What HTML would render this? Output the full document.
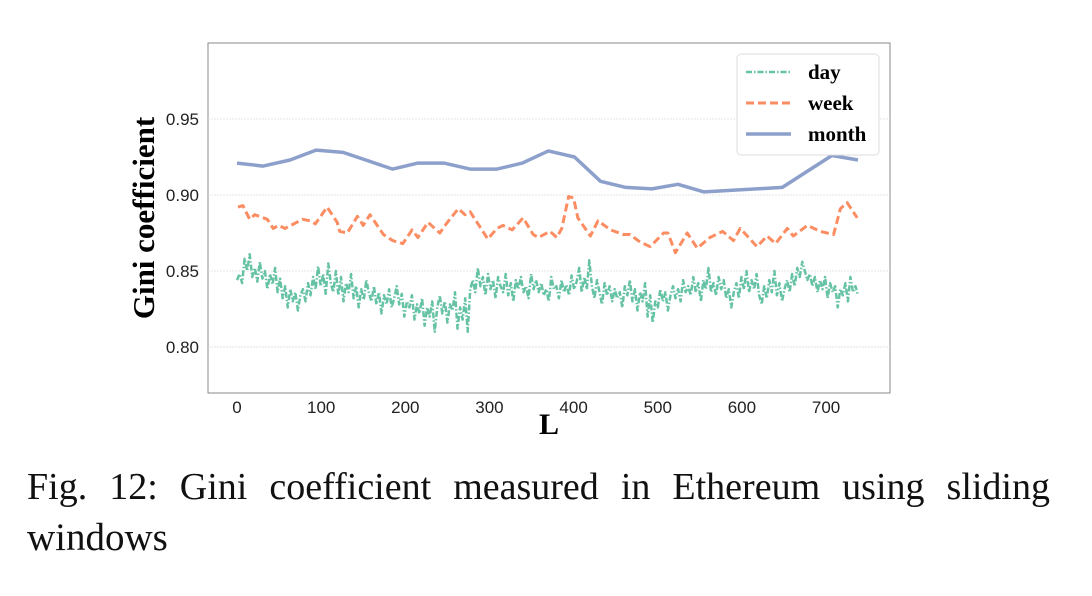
<!DOCTYPE html>
<html><head><meta charset="utf-8"><style>
body{margin:0;background:#fff;width:1092px;height:596px;overflow:hidden;position:relative;font-family:"Liberation Serif",serif}
#cap{position:absolute;left:27px;top:462px;width:1023px;font-size:38px;line-height:50px;text-align:justify;text-align-last:justify;color:#111;white-space:nowrap}
#cap2{position:absolute;left:27px;top:513px;font-size:39px;line-height:50px;color:#111}
</style></head><body>
<svg id="chart" width="1092" height="460" style="position:absolute;left:0;top:0"></svg>
<div id="cap">Fig. 12: Gini coefficient measured in Ethereum using sliding</div>
<div id="cap2">windows</div>
<script>
const monthX=[0,31,63,94,126,185,215,246,277,309,339,370,401,432,462,493,524,555,648,707,738];
const monthY=[0.921,0.919,0.923,0.9295,0.928,0.917,0.921,0.921,0.917,0.917,0.921,0.929,0.925,0.909,0.905,0.904,0.907,0.902,0.905,0.926,0.923];
const weekX=[1,7,15,21,36,43,49,57,78,87,93,107,119,122,131,143,150,158,174,185,197,208,215,227,241,250,263,271,277,298,309,316,327,340,352,358,372,380,386,394,400,405,420,429,444,459,467,479,491,507,512,521,535,547,562,577,590,598,618,630,640,654,661,678,693,709,717,725,737];
const weekY=[0.892,0.893,0.884,0.887,0.884,0.878,0.880,0.878,0.884,0.883,0.881,0.892,0.882,0.876,0.875,0.886,0.880,0.887,0.874,0.870,0.868,0.877,0.872,0.882,0.875,0.882,0.891,0.887,0.889,0.871,0.878,0.880,0.877,0.885,0.874,0.872,0.876,0.872,0.878,0.899,0.898,0.885,0.873,0.883,0.877,0.874,0.874,0.869,0.866,0.875,0.875,0.862,0.875,0.865,0.872,0.876,0.870,0.878,0.866,0.873,0.868,0.878,0.873,0.880,0.876,0.874,0.891,0.895,0.885];
const dayFirst=0, dayLast=738;
const dayY=[0.844,0.848,0.842,0.858,0.850,0.861,0.846,0.852,0.843,0.856,0.845,0.850,0.838,0.848,0.841,0.852,0.836,0.845,0.832,0.840,0.826,0.838,0.830,0.836,0.824,0.834,0.838,0.830,0.842,0.834,0.846,0.838,0.853,0.840,0.848,0.835,0.855,0.842,0.836,0.850,0.834,0.846,0.830,0.842,0.836,0.848,0.832,0.840,0.826,0.838,0.831,0.844,0.836,0.830,0.840,0.828,0.836,0.822,0.834,0.828,0.838,0.826,0.832,0.840,0.828,0.835,0.820,0.830,0.826,0.834,0.818,0.828,0.822,0.832,0.814,0.826,0.820,0.830,0.810,0.826,0.834,0.822,0.830,0.816,0.828,0.824,0.836,0.812,0.826,0.818,0.832,0.810,0.838,0.844,0.836,0.852,0.840,0.846,0.834,0.848,0.838,0.844,0.832,0.846,0.840,0.836,0.848,0.834,0.842,0.830,0.844,0.838,0.846,0.836,0.840,0.832,0.848,0.838,0.844,0.836,0.842,0.834,0.838,0.830,0.846,0.838,0.840,0.832,0.844,0.836,0.841,0.834,0.847,0.838,0.843,0.852,0.836,0.846,0.838,0.857,0.840,0.832,0.844,0.836,0.828,0.842,0.834,0.840,0.830,0.838,0.832,0.836,0.826,0.840,0.834,0.844,0.830,0.838,0.824,0.836,0.830,0.842,0.820,0.834,0.816,0.830,0.826,0.838,0.830,0.836,0.824,0.834,0.840,0.832,0.838,0.830,0.844,0.836,0.840,0.834,0.846,0.836,0.842,0.830,0.844,0.838,0.852,0.836,0.842,0.834,0.846,0.838,0.844,0.832,0.838,0.826,0.836,0.842,0.832,0.846,0.838,0.850,0.836,0.844,0.838,0.848,0.834,0.828,0.840,0.832,0.844,0.836,0.850,0.834,0.842,0.830,0.838,0.844,0.836,0.848,0.840,0.852,0.846,0.856,0.850,0.844,0.848,0.840,0.846,0.836,0.844,0.838,0.846,0.832,0.842,0.836,0.840,0.826,0.838,0.834,0.842,0.830,0.846,0.836,0.840,0.834];
const yTicks=[0.80,0.85,0.90,0.95];
const xTicks=[0,100,200,300,400,500,600,700];
const L=208,R=890,T=43,B=393,xMin=-34.5,xMax=776,yMin=0.7697,yMax=1.0;
const sx=v=>L+(v-xMin)/(xMax-xMin)*(R-L), sy=v=>B-(v-yMin)/(yMax-yMin)*(B-T);
const svg=document.getElementById('chart');const NS='http://www.w3.org/2000/svg';
function mk(t,a,txt){const e=document.createElementNS(NS,t);for(const k in a)e.setAttribute(k,a[k]);if(txt!==undefined)e.textContent=txt;svg.appendChild(e);return e;}
let e;
e=mk('rect',{x:L,y:T,width:R-L,height:B-T,fill:'#fff',stroke:'#888','stroke-width':1});


yTicks.forEach(v=>{
 e=mk('line',{x1:L,x2:R,y1:sy(v),y2:sy(v),stroke:'#ddd','stroke-width':0.8,'stroke-dasharray':'2,1'});
 
 
 e=mk('text',{x:L-9,y:sy(v)+6,'text-anchor':'end','font-family':'Liberation Sans, sans-serif','font-size':17,fill:'#222'},v.toFixed(2));
 
 
});
xTicks.forEach(v=>{
 e=mk('text',{x:sx(v),y:B+20,'text-anchor':'middle','font-family':'Liberation Sans, sans-serif','font-size':17,fill:'#222'},v);
 
 
});
function line(xs,ys,color,w,dash,name){
 const d=ys.map((y,i)=>(i?'L':'M')+sx(xs[i]).toFixed(1)+','+sy(y).toFixed(1)).join('');
 const p=mk('path',{d:d,fill:'none',stroke:color,'stroke-width':w,'stroke-dasharray':dash,'stroke-linejoin':'round'});
 
 
}
const dayX=dayY.map((_,i)=>dayFirst+i*(dayLast-dayFirst)/(dayY.length-1));
line(dayX,dayY,'#66c2a5',2.5,'6,2,1.5,2','day-series');
line(weekX,weekY,'#fc8d62',3,'8,4','week-series');
line(monthX,monthY,'#8da0cb',3.5,'','month-series');
e=mk('text',{x:0,y:0,transform:'translate(154,218) rotate(-90)','text-anchor':'middle','font-family':'Liberation Serif, serif','font-weight':'bold','font-size':31,fill:'#000'},'Gini coefficient');


e=mk('text',{x:549,y:434,'text-anchor':'middle','font-family':'Liberation Serif, serif','font-weight':'bold','font-size':30,fill:'#000'},'L');


e=mk('rect',{x:737,y:54,width:142,height:101,rx:4,fill:'#fff',stroke:'#ddd'});


[['day','#66c2a5','6,2,1.5,2',2.5,72],['week','#fc8d62','8,4',3,103],['month','#8da0cb','',3.5,134]].forEach(l=>{
 e=mk('line',{x1:746,x2:791,y1:l[4],y2:l[4],stroke:l[1],'stroke-width':l[3],'stroke-dasharray':l[2]});
 
 
 e=mk('text',{x:808,y:l[4]+7,'font-family':'Liberation Serif, serif','font-weight':'bold','font-size':21,fill:'#000'},l[0]);
 
 
});
</script>
</body></html>
